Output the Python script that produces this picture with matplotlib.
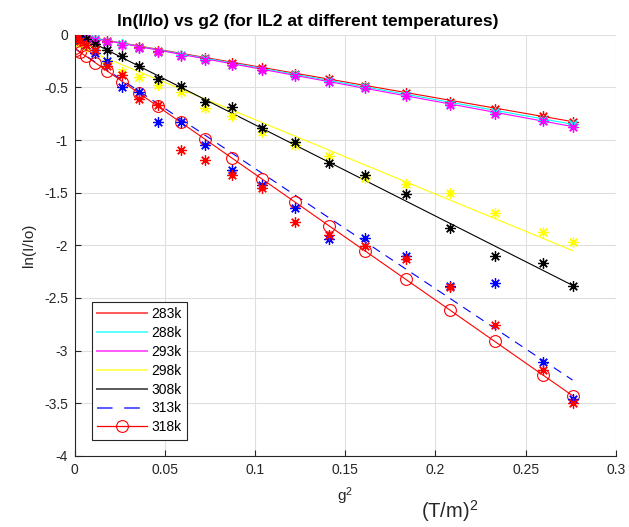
import matplotlib
matplotlib.use("Agg")
import matplotlib.pyplot as plt

plt.rcParams['font.family'] = ['Liberation Sans', 'DejaVu Sans']
plt.rcParams['axes.unicode_minus'] = False
plt.rcParams['mathtext.default'] = 'regular'

# g^2 values (T/m)^2
g2 = [0, 0.0007, 0.0028, 0.0063, 0.0112, 0.0176, 0.0263, 0.0355, 0.046, 0.0588,
      0.072, 0.087, 0.1036, 0.122, 0.1408, 0.161, 0.1835, 0.2079, 0.2328, 0.2594, 0.276]

# measured ln(I/Io)
y283 = [0.0, -0.003, -0.01, -0.024, -0.038, -0.06, -0.085, -0.118, -0.152, -0.188, -0.225,
        -0.272, -0.318, -0.368, -0.422, -0.485, -0.55, -0.635, -0.705, -0.776, -0.824]
y288 = [0.0, -0.004, -0.013, -0.027, -0.042, -0.065, -0.09, -0.125, -0.16, -0.195, -0.232,
        -0.283, -0.33, -0.38, -0.435, -0.5, -0.57, -0.655, -0.73, -0.805, -0.85]
y293 = [0.0, -0.005, -0.015, -0.03, -0.045, -0.07, -0.095, -0.13, -0.165, -0.2, -0.238,
        -0.29, -0.338, -0.39, -0.445, -0.51, -0.585, -0.67, -0.748, -0.822, -0.875]
y298 = [0.0, -0.03, -0.07, -0.11, -0.143, -0.269, -0.358, -0.402, -0.475, -0.539, -0.697,
        -0.776, -0.919, -1.045, -1.15, -1.362, -1.416, -1.504, -1.694, -1.869, -1.973]
y308 = [0.0, -0.005, -0.02, -0.04, -0.09, -0.149, -0.206, -0.295, -0.421, -0.485, -0.634,
        -0.687, -0.887, -1.014, -1.219, -1.33, -1.514, -1.831, -2.1, -2.17, -2.382]
y313 = [0.0, -0.02, -0.05, -0.1, -0.17, -0.253, -0.497, -0.539, -0.83, -0.824, -1.045,
        -1.287, -1.425, -1.642, -1.94, -1.93, -2.106, -2.385, -2.36, -3.104, -3.46]
y318 = [0.0, -0.02, -0.06, -0.1, -0.14, -0.3, -0.38, -0.61, -0.665, -1.093, -1.194,
        -1.33, -1.457, -1.783, -1.9, -2.011, -2.13, -2.4, -2.755, -3.183, -3.5]

# linear fits, drawn from first to last g^2
fit_x = [0, 0.276]
fit283 = [0.0, -0.825]
fit288 = [0.0, -0.85]
fit293 = [0.0, -0.872]
fit298 = [-0.10, -2.05]
fit308 = [0.01, -2.38]
fit313 = [-0.13, -3.28]
fit318 = [-0.13, -0.14, -0.166, -0.205, -0.264, -0.34, -0.444, -0.554, -0.68, -0.833, -0.99,
          -1.17, -1.368, -1.588, -1.813, -2.054, -2.323, -2.614, -2.912, -3.23, -3.428]

labels = ['283k', '288k', '293k', '298k', '308k', '313k', '318k']

RED, CYAN, MAG, YEL, BLK, BLUE = '#ff0000', '#00ffff', '#ff00ff', '#ffff00', '#000000', '#0000ff'
star = (8, 2, 0)
fig = plt.figure(figsize=(6.29, 5.27), dpi=100)
ax = fig.add_axes([0.119, 0.135, 0.860, 0.799])

ax.plot(fit_x, fit283, '-', color=RED, lw=0.8, label=labels[0])
ax.plot(fit_x, fit288, '-', color=CYAN, lw=0.8, label=labels[1])
ax.plot(fit_x, fit293, '-', color=MAG, lw=0.8, label=labels[2])
ax.plot(fit_x, fit298, '-', color=YEL, lw=0.8, label=labels[3])
ax.plot(fit_x, fit308, '-', color=BLK, lw=0.8, label=labels[4])
ax.plot(fit_x, fit313, '--', color=BLUE, lw=0.8, dashes=(8, 6), label=labels[5])
ax.plot(g2, fit318, '-', color=RED, lw=0.8, marker='o', ms=8.5, mfc='none', mew=0.8,
        label=labels[6])

for y, c in [(y283, RED), (y288, CYAN), (y293, MAG), (y298, YEL),
             (y308, BLK), (y313, BLUE), (y318, RED)]:
    ax.plot(g2, y, linestyle='none', marker=star, ms=7.5, mec=c, mew=0.9, color=c)

ax.set_xlim(0, 0.3)
ax.set_ylim(-4, 0)
xt = [0, 0.05, 0.1, 0.15, 0.2, 0.25, 0.3]
yt = [-4, -3.5, -3, -2.5, -2, -1.5, -1, -0.5, 0]
ax.set_xticks(xt)
ax.set_xticklabels(['0', '0.05', '0.1', '0.15', '0.2', '0.25', '0.3'])
ax.set_yticks(yt)
ax.set_yticklabels(['-4', '-3.5', '-3', '-2.5', '-2', '-1.5', '-1', '-0.5', '0'])
ax.grid(True, color='#dfdfdf', lw=0.8)
ax.set_axisbelow(True)
for s in ['top', 'right']:
    ax.spines[s].set_visible(False)
for s in ['left', 'bottom']:
    ax.spines[s].set_color('#262626')
    ax.spines[s].set_linewidth(0.8)
ax.tick_params(direction='in', length=4, width=0.8, colors='#262626', labelsize=10, pad=5)

ax.set_title('ln(I/Io) vs g2 (for IL2 at different temperatures)', fontsize=12.5,
             fontweight='bold', x=0.43, pad=6)
ax.set_xlabel('g$^2$', fontsize=11, color='#262626', labelpad=6)
ax.set_ylabel('ln(I/Io)', fontsize=11, color='#262626', labelpad=6)
fig.text(0.715, 0.017, '(T/m)$^2$', fontsize=14.5, ha='center', color='#262626')

leg = ax.legend(loc='lower left', bbox_to_anchor=(0.031, 0.038), fontsize=10,
                fancybox=False, edgecolor='#262626', framealpha=1, handlelength=3.6,
                handletextpad=0.3, labelspacing=0.35, borderaxespad=0, borderpad=0.4)
leg.get_frame().set_linewidth(0.8)
for h in leg.get_lines():
    h.set_linewidth(1.4)
    h.set_alpha(0.65)
leg.get_lines()[-1].set_alpha(1)
leg.get_lines()[-1].set_linewidth(0.9)

fig.savefig('out.png', dpi=100)
